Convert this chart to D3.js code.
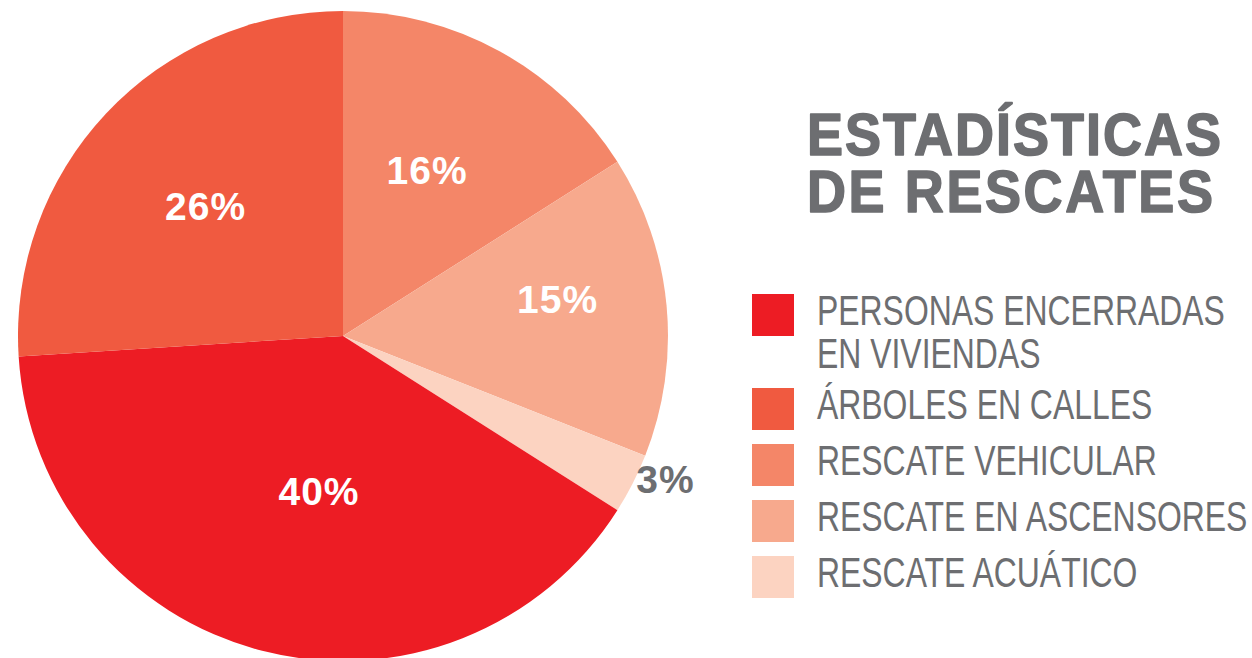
<!DOCTYPE html>
<html>
<head>
<meta charset="utf-8">
<script src="https://cdn.jsdelivr.net/npm/d3@7"></script>
<style>
  html, body { margin: 0; padding: 0; background: #ffffff; }
  svg { display: block; }
</style>
</head>
<body>
<svg id="chart" width="1252" height="658"></svg>
<script>
// ---- data ----
const categories = ["PERSONAS ENCERRADAS EN VIVIENDAS", "ÁRBOLES EN CALLES", "RESCATE VEHICULAR", "RESCATE EN ASCENSORES", "RESCATE ACUÁTICO"];
const legendLines = [["PERSONAS ENCERRADAS", "EN VIVIENDAS"], ["ÁRBOLES EN CALLES"], ["RESCATE VEHICULAR"], ["RESCATE EN ASCENSORES"], ["RESCATE ACUÁTICO"]];
const values = [40, 26, 16, 15, 3];
const colors = ["#ED1C24", "#F05A40", "#F48668", "#F7A98D", "#FCD3C1"];
const pieOrder = [2, 3, 4, 0, 1]; // clockwise from 12 o'clock
const titleLines = ["ESTADÍSTICAS", "DE RESCATES"];

// ---- layout ----
const cx = 343, cy = 336, R = 325;
const labelRadiusFactor = [0.483, 0.58, 0.57, 0.67, 1.086];
const labelAngleShiftDeg = [-5.6, 0, -1.8, -4.3, -3];
const svg = d3.select("#chart");
const grey = "#6D6E71";
const font = "'Liberation Sans', Arial, sans-serif";

const pie = d3.pie()
  .sort(null)
  .value(d => values[d])
  .startAngle(0)
  .endAngle(2 * Math.PI);
const arcs = pie(pieOrder);
const arc = d3.arc().innerRadius(0).outerRadius(R);

const g = svg.append("g").attr("transform", `translate(${cx},${cy})`);
g.selectAll("path.slice")
  .data(arcs)
  .join("path")
  .attr("class", "slice")
  .attr("d", arc)
  .attr("fill", d => colors[d.data]);

g.selectAll("text.pct")
  .data(arcs)
  .join("text")
  .attr("class", "pct")
  .each(function(d) {
    const mid = (d.startAngle + d.endAngle) / 2 + labelAngleShiftDeg[d.data] * Math.PI / 180;
    const p = d3.pointRadial(mid, R * labelRadiusFactor[d.data]);
    d3.select(this).attr("x", p[0]).attr("y", p[1]);
  })
  .attr("text-anchor", "middle")
  .attr("dominant-baseline", "central")
  .attr("font-family", font)
  .attr("font-weight", "bold")
  .attr("font-size", 39)
  .attr("letter-spacing", 1)
  .attr("fill", d => d.data === 4 ? grey : "#ffffff")
  .text(d => values[d.data] + "%");

// ---- title ----
const titleScale = 0.9;
const titleWidths = [414, 406];
const title = svg.append("text")
  .attr("transform", `translate(807,155) scale(${titleScale},1)`)
  .attr("font-family", font)
  .attr("font-weight", "bold")
  .attr("font-size", 60)
  .attr("fill", grey)
  .attr("stroke", grey)
  .attr("stroke-width", 1.6)
  .attr("stroke-linejoin", "round");
title.selectAll("tspan")
  .data(titleLines)
  .join("tspan")
  .attr("x", 0)
  .attr("y", (d, i) => i * 57)
  .attr("textLength", (d, i) => titleWidths[i] / titleScale)
  .attr("lengthAdjust", "spacing")
  .text(d => d);

// ---- legend ----
const legendScale = 0.76;
const boxTops = [294, 388, 444, 500, 556];
const lg = svg.append("g");
categories.forEach((c, i) => {
  lg.append("rect")
    .attr("x", 752).attr("y", boxTops[i])
    .attr("width", 42).attr("height", 42)
    .attr("fill", colors[i]);
  legendLines[i].forEach((line, j) => {
    lg.append("text")
      .attr("transform", `translate(817,${boxTops[i] + 31 + j * 43}) scale(${legendScale},1)`)
      .attr("font-family", font)
      .attr("font-size", 42)
      .attr("fill", grey)
      .text(line);
  });
});
</script>
</body>
</html>
